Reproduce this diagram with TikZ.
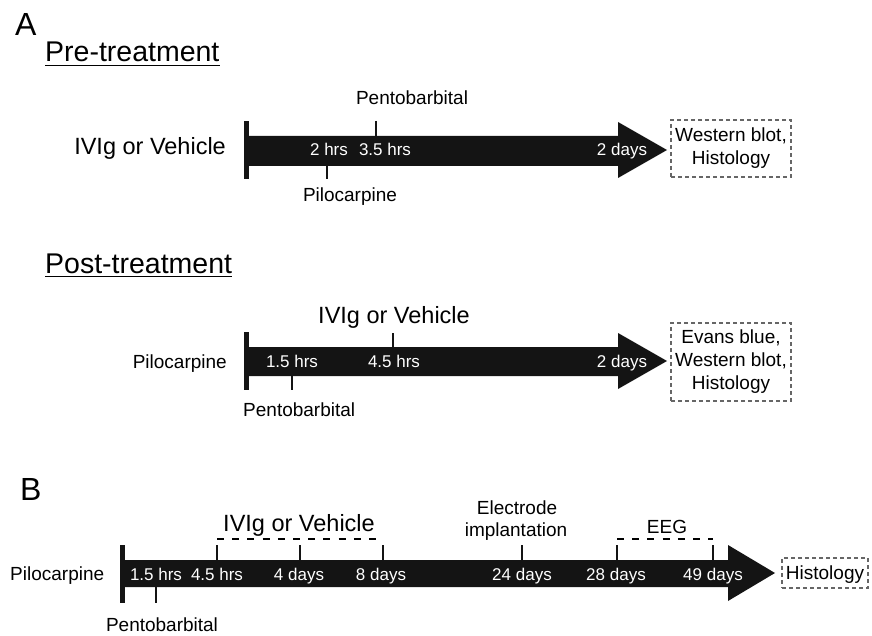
\documentclass[tikz,border=0pt]{standalone}
\usepackage{fontspec}
\setmainfont{Liberation Sans}
\begin{document}
\begin{tikzpicture}[x=1pt,y=-1pt,
  lbl/.style={inner sep=0pt, anchor=base, font=\fontsize{19}{23}\selectfont},
  big/.style={inner sep=0pt, anchor=base, font=\fontsize{23.5}{28}\selectfont},
  heading/.style={inner sep=0pt, anchor=base west, font=\fontsize{28.5}{34}\selectfont},
  panel/.style={inner sep=0pt, anchor=base west, font=\fontsize{32}{38}\selectfont},
  inlbl/.style={inner sep=0pt, anchor=base, text=white, font=\fontsize{17}{20}\selectfont},
  tlbody/.style={fill=black!92},
  tickmark/.style={line width=2.5pt, draw=black!92},
  result/.style={draw=black!60, dash pattern=on 4pt off 3pt, line width=1.1pt, align=center,
                 font=\fontsize{19}{23}\selectfont, inner sep=0pt},
  period/.style={line width=1.8pt, dash pattern=on 7pt off 8.2pt},
  uline/.style={line width=1.5pt}]
\useasboundingbox (0,0) rectangle (872,636);

% ---------------- Panel A : Pre-treatment ----------------
\node[panel] (A) at (15,35.5) {A};
\node[heading] (pre) at (45,62) {Pre-treatment};
\draw[uline] ([yshift=-3.5pt]pre.base west) -- ([yshift=-3.5pt]pre.base east);

\fill[tlbody] (244,121) rectangle (249,179);
\fill[tlbody] (248,136) -- (618,136) -- (618,122) -- (667,150) -- (618,178) -- (618,166) -- (248,166) -- cycle;
\draw[tickmark] (376,121) -- (376,137);
\draw[tickmark] (327,165) -- (327,179);

\node[big, anchor=base east] (ivig1) at (226,155) {IVIg or Vehicle};
\node[lbl] (pento1) at (412,105) {Pentobarbital};
\node[lbl] (pilo1) at (350,202) {Pilocarpine};
\node[inlbl] at (329,156) {2 hrs};
\node[inlbl] at (385,156) {3.5 hrs};
\node[inlbl] at (622,156) {2 days};
\node[result, minimum width=120pt, minimum height=57pt] (res1) at (731,148.5) {Western blot,\\Histology};

% ---------------- Panel A : Post-treatment ----------------
\node[heading] (post) at (45,273) {Post-treatment};
\draw[uline] ([yshift=-3.5pt]post.base west) -- ([yshift=-3.5pt]post.base east);

\fill[tlbody] (244,332) rectangle (249,390);
\fill[tlbody] (248,347) -- (618,347) -- (618,333) -- (667,361) -- (618,389) -- (618,376) -- (248,376) -- cycle;
\draw[tickmark] (393,333) -- (393,348);
\draw[tickmark] (292,375) -- (292,390);

\node[lbl, anchor=base east] (pilo2) at (227,368) {Pilocarpine};
\node[big] (ivig2) at (394,323) {IVIg or Vehicle};
\node[lbl, anchor=base west] (pento2) at (243,416) {Pentobarbital};
\node[inlbl] at (292,367) {1.5 hrs};
\node[inlbl] at (394,367) {4.5 hrs};
\node[inlbl] at (622,367) {2 days};
\node[result, minimum width=120pt, minimum height=78pt] (res2) at (731,362) {Evans blue,\\Western blot,\\Histology};

% ---------------- Panel B ----------------
\node[panel] (B) at (20,500) {B};

\fill[tlbody] (120,545) rectangle (125,603);
\fill[tlbody] (124,560) -- (728,560) -- (728,545) -- (775,573) -- (728,601) -- (728,587) -- (124,587) -- cycle;
\foreach \x in {217,300,383,522,617,713} \draw[tickmark] (\x,545) -- (\x,561);
\draw[tickmark] (156,586) -- (156,603);

\draw[period] (217,539) -- (383,539);
\draw[period] (617,539) -- (713,539);

\node[lbl, anchor=base west] (pilo3) at (10,580) {Pilocarpine};
\node[lbl] (pento3) at (162,631) {Pentobarbital};
\node[big] (ivig3) at (299,531) {IVIg or Vehicle};
\node[lbl] (eeg) at (667,533) {EEG};
\node[lbl] (elec) at (517,514) {Electrode};
\node[lbl] (impl) at (516,536) {implantation};

\node[inlbl] at (156,580) {1.5 hrs};
\node[inlbl] at (217,580) {4.5 hrs};
\node[inlbl] at (299,580) {4 days};
\node[inlbl] at (381,580) {8 days};
\node[inlbl] at (522,580) {24 days};
\node[inlbl] at (616,580) {28 days};
\node[inlbl] at (713,580) {49 days};
\node[result, minimum width=86pt, minimum height=30pt, text height=13.6pt, text depth=0pt] (res3) at (825,573) {Histology};
\end{tikzpicture}
\end{document}
